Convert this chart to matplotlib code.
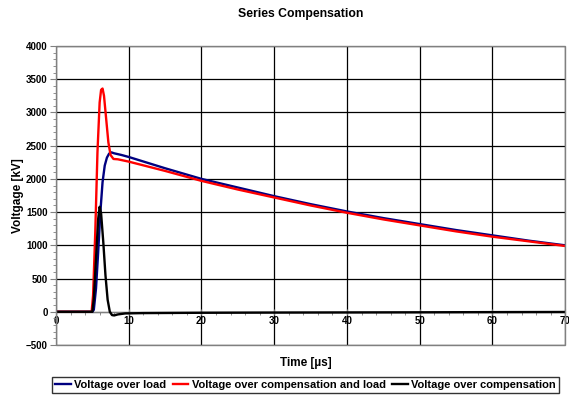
import matplotlib
matplotlib.use('Agg')
import matplotlib.pyplot as plt
from matplotlib.patches import Rectangle
from matplotlib.ticker import MultipleLocator

plt.rcParams['font.family'] = ['Liberation Sans', 'DejaVu Sans']
plt.rcParams['font.weight'] = 'bold'

# values (time in us, voltage in kV)
t_load = [0, 5.0, 5.2, 5.5, 5.8, 6.1, 6.4, 6.7, 7.0, 7.3, 7.6, 8.0, 9, 10, 15, 20,
          25, 30, 35, 40, 45, 50, 55, 60, 65, 70]
v_load = [0, 0, 30, 350, 900, 1500, 1950, 2200, 2320, 2380, 2400, 2385, 2360, 2330,
          2160, 2000, 1870, 1740, 1620, 1510, 1410, 1320, 1230, 1150, 1070, 1000]

t_comp_load = [0, 4.9, 5.1, 5.4, 5.7, 6.0, 6.2, 6.4, 6.6, 6.9, 7.2, 7.5, 7.9, 8.5,
               10, 15, 20, 25, 30, 35, 40, 45, 50, 55, 60, 65, 70]
v_comp_load = [0, 0, 250, 1200, 2400, 3150, 3340, 3360, 3250, 2900, 2550, 2360,
               2300, 2295, 2260, 2120, 1970, 1840, 1720, 1600, 1490, 1390, 1300,
               1210, 1130, 1060, 990]

t_comp = [0, 5.0, 5.2, 5.5, 5.8, 6.0, 6.2, 6.5, 6.8, 7.1, 7.4, 7.7, 8.0, 8.5, 9.5,
          12, 20, 30, 40, 50, 60, 70]
v_comp = [0, 0, 200, 800, 1400, 1580, 1480, 1050, 550, 180, 0, -50, -55, -40, -25,
          -20, -15, -12, -10, -8, -5, -3]

fig = plt.figure(figsize=(5.69, 3.96), dpi=100)
ax = fig.add_axes([0.0984, 0.1288, 0.895, 0.755])

ax.plot(t_load, v_load, color='#000080', lw=1.7, label='Voltage over load', zorder=3)
ax.plot(t_comp_load, v_comp_load, color='#ff0000', lw=1.7,
        label='Voltage over compensation and load', zorder=4)
ax.plot(t_comp, v_comp, color='black', lw=1.7, label='Voltage over compensation', zorder=5)

ax.set_xlim(0, 70)
ax.set_ylim(-500, 4000)
ax.xaxis.set_major_locator(MultipleLocator(10))
ax.xaxis.set_minor_locator(MultipleLocator(2))
ax.yaxis.set_major_locator(MultipleLocator(500))
ax.yaxis.set_minor_locator(MultipleLocator(100))
ax.grid(True, which='major', color='black', lw=0.9)

for s in ['top', 'right', 'left']:
    ax.spines[s].set_visible(False)
ax.spines['bottom'].set_position(('data', 0))
ax.spines['bottom'].set_color('#808080')
ax.add_patch(Rectangle((0, 0), 1, 1, transform=ax.transAxes, fill=False,
                       ec='#808080', lw=1.0, clip_on=False, zorder=6))
ax.tick_params(axis='both', which='major', labelsize=7, length=4, color='#808080')
ax.tick_params(axis='both', which='minor', length=2, color='#808080')
ax.tick_params(axis='x', direction='inout', pad=1)
ax.tick_params(axis='y', direction='out', pad=2)
for lbl in ax.get_xticklabels() + ax.get_yticklabels():
    lbl.set_fontweight('bold')

fig.text(0.528, 0.965, 'Series Compensation', ha='center', va='center',
         fontsize=8.8, fontweight='bold')
fig.text(0.032, 0.505, 'Voltgage [kV]', ha='center', va='center', rotation=90,
         fontsize=8.5, fontweight='bold')
fig.text(0.537, 0.083, 'Time [\u00b5s]', ha='center', va='center',
         fontsize=8.5, fontweight='bold')

leg = fig.legend(loc='center', bbox_to_anchor=(0.537, 0.028), ncol=3,
                 frameon=True, fancybox=False, edgecolor='black', handlelength=1.4,
                 handletextpad=0.3, columnspacing=0.6, borderpad=0.25,
                 prop={'weight': 'bold', 'size': 8})
leg.get_frame().set_linewidth(1.0)

fig.savefig('out.png', dpi=100)
